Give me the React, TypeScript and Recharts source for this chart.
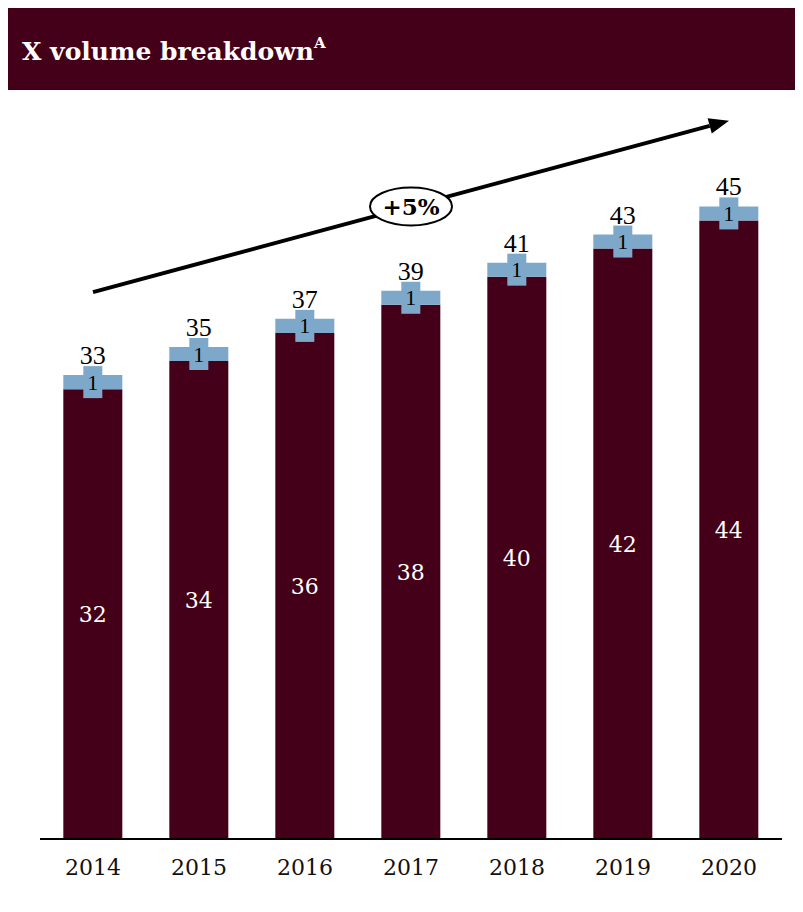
import React from 'react';
import { BarChart, Bar, XAxis, YAxis, LabelList, ReferenceLine } from 'recharts';

const years = ['2014', '2015', '2016', '2017', '2018', '2019', '2020'];
const baseVolume = [32, 34, 36, 38, 40, 42, 44];
const addOnVolume = [1, 1, 1, 1, 1, 1, 1];
const totals = [33, 35, 37, 39, 41, 43, 45];
const trendStart = 38.9;
const trendEnd = 51.1;
const growthLabel = '+5%';
const title = 'X volume breakdown';
const titleNote = 'A';

const data = years.map((year, i) => ({
  year,
  base: baseVolume[i],
  addOn: addOnVolume[i],
  total: totals[i],
}));

const MAROON = '#440019';
const BLUE = '#7ea8ca';

const AddOnLabel = (props: any) => {
  const { x, y, width, height, value } = props;
  const cx = x + width / 2;
  const cy = y + height / 2;
  return (
    <g>
      <rect x={cx - 9.5} y={cy - 16} width={19} height={32} fill={BLUE} />
      <text
        x={cx}
        y={cy + 7.5}
        textAnchor="middle"
        fontFamily="'Liberation Serif', serif"
        fontSize={22}
        fill="#000"
      >
        {value}
      </text>
    </g>
  );
};

const XTick = (props: any) => {
  const { x, y, payload } = props;
  return (
    <text
      x={x}
      y={y}
      dy={28}
      textAnchor="middle"
      fontFamily="'DejaVu Serif', serif"
      fontSize={22}
      fill="#111"
    >
      {payload.value}
    </text>
  );
};

const TrendArrow = (props: any) => {
  const { x1, y1, x2, y2 } = props;
  const ang = Math.atan2(y2 - y1, x2 - x1);
  const headLen = 20;
  const headW = 8;
  const bx = x2 - headLen * Math.cos(ang);
  const by = y2 - headLen * Math.sin(ang);
  const px = -Math.sin(ang) * headW;
  const py = Math.cos(ang) * headW;
  const mx = (x1 + x2) / 2;
  const my = (y1 + y2) / 2;
  return (
    <g>
      <line x1={x1} y1={y1} x2={bx} y2={by} stroke="#000" strokeWidth={4} />
      <polygon
        points={`${x2},${y2} ${bx + px},${by + py} ${bx - px},${by - py}`}
        fill="#000"
      />
      <ellipse cx={mx} cy={my} rx={41} ry={19} fill="#fff" stroke="#000" strokeWidth={2} />
      <text
        x={mx}
        y={my + 8.5}
        textAnchor="middle"
        fontFamily="'DejaVu Serif', serif"
        fontWeight="bold"
        fontSize={23}
        fill="#000"
      >
        {growthLabel}
      </text>
    </g>
  );
};

export default function App() {
  return (
    <div style={{ width: 797, marginLeft: -2, background: '#fff' }}>
      <div
        style={{
          height: 82,
          background: MAROON,
          color: '#fff',
          display: 'flex',
          alignItems: 'center',
          paddingLeft: 16,
          boxSizing: 'border-box',
          fontFamily: "'DejaVu Serif', serif",
          fontWeight: 'bold',
          fontSize: 25,
        }}
      >
        <span style={{ position: 'relative', top: 2 }}>
          {title}
          <sup style={{ fontSize: 15, verticalAlign: 'top', position: 'relative', top: -3 }}>{titleNote}</sup>
        </span>
      </div>
      <div style={{ borderLeft: '2px solid #8d6878', height: 822, boxSizing: 'border-box' }}>
        <BarChart
          width={795}
          height={822}
          data={data}
          margin={{ top: 18, right: 21, bottom: 0, left: 32 }}
          barCategoryGap="22%"
        >
          <XAxis
            dataKey="year"
            height={73}
            tickLine={false}
            axisLine={{ stroke: '#000', strokeWidth: 2 }}
            tick={<XTick />}
            interval={0}
          />
          <YAxis hide domain={[0, 52]} />
          <Bar dataKey="base" stackId="v" fill={MAROON} isAnimationActive={false}>
            <LabelList
              dataKey="base"
              position="center"
              fill="#fff"
              fontFamily="'DejaVu Serif', serif"
              fontSize={22}
            />
          </Bar>
          <Bar dataKey="addOn" stackId="v" fill={BLUE} isAnimationActive={false}>
            <LabelList dataKey="addOn" content={<AddOnLabel />} />
            <LabelList
              dataKey="total"
              position="top"
              offset={11}
              fill="#000"
              fontFamily="'Liberation Serif', serif"
              fontSize={26}
            />
          </Bar>
          <ReferenceLine
            segment={[
              { x: years[0], y: trendStart },
              { x: years[years.length - 1], y: trendEnd },
            ]}
            ifOverflow="visible"
            shape={<TrendArrow />}
          />
        </BarChart>
      </div>
    </div>
  );
}
